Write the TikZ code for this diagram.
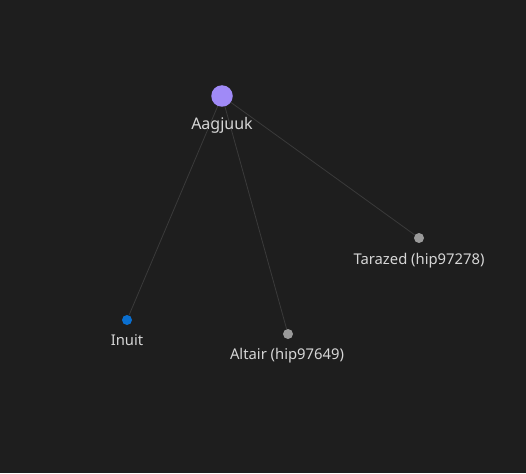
\documentclass[tikz,border=0pt]{standalone}
\usepackage{fontspec}
\setmainfont{Noto Sans}
\definecolor{bgdark}{HTML}{1E1E1E}
\definecolor{edgegray}{HTML}{3A3A3A}
\definecolor{labelgray}{HTML}{D6D6D6}
\definecolor{hubpurple}{HTML}{A08AF7}
\definecolor{dotgray}{HTML}{9A9A9A}
\definecolor{dotblue}{HTML}{0A6FD0}
\pgfdeclarelayer{under}
\pgfsetlayers{under,main}
\tikzset{
  dot/.style={circle, inner sep=0pt, minimum size=10pt},
  hub/.style={circle, fill=hubpurple, inner sep=0pt, minimum size=21.5pt},
  lbl/.style={anchor=base, inner sep=0pt, text=labelgray, font=\fontsize{14.8}{17}\selectfont},
  link/.style={edgegray, line width=0.8pt}
}
\begin{document}
\begin{tikzpicture}[x=1pt, y=-1pt]
    \useasboundingbox (0,0) rectangle (526,473);
    % nodes
    \node[hub] (aag) at (222,96) {};
    \node[dot, fill=dotgray] (tar) at (419,238) {};
    \node[dot, fill=dotblue] (inu) at (127,320) {};
    \node[dot, fill=dotgray] (alt) at (288,334) {};
    % edges, below the nodes
    \begin{pgfonlayer}{under}
        \fill[bgdark] (0,0) rectangle (526,473);
        \draw[link] (aag.center) -- (tar);
        \draw[link] (aag.center) -- (inu);
        \draw[link] (aag.center) -- (alt);
    \end{pgfonlayer}
    % labels
    \node[lbl, font=\fontsize{16}{19}\selectfont] (aaglbl) at (222,129.5) {Aagjuuk};
    \node[lbl] (tarlbl) at (419,264.5) {Tarazed (hip97278)};
    \node[lbl] (inulbl) at (127,345) {Inuit};
    \node[lbl] (altlbl) at (287,359.5) {Altair (hip97649)};
\end{tikzpicture}
\end{document}
